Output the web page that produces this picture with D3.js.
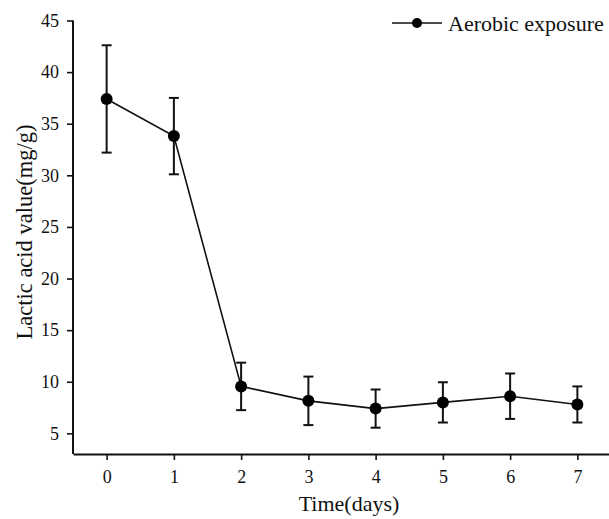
<!DOCTYPE html>
<html>
<head>
<meta charset="utf-8">
<script src="https://cdn.jsdelivr.net/npm/d3@7"></script>
<style>
  body { margin: 0; background: #fff; }
  svg text { font-family: "Liberation Serif", "Times New Roman", serif; fill: #111; }
</style>
</head>
<body>
<div id="chart"></div>
<script>
// data
var days = [0, 1, 2, 3, 4, 5, 6, 7];
var lactic = [37.4, 33.8, 9.55, 8.15, 7.4, 8.0, 8.6, 7.8];
var errs = [5.2, 3.7, 2.3, 2.35, 1.85, 1.95, 2.2, 1.75];
var yTicks = [5, 10, 15, 20, 25, 30, 35, 40, 45];
var seriesName = "Aerobic exposure";

var W = 609, H = 519;
var padL = 73, padB = 454, padT = 20;

var svg = d3.select("#chart").append("svg")
  .attr("width", W)
  .attr("height", H);

var x = d3.scaleLinear().domain([-0.5, 7.5]).range([padL, 611]);
var y = d3.scaleLinear().domain([3, 45]).range([padB, padT + 0.5]);

// axes
var xAxis = svg.append("g")
  .attr("transform", "translate(0," + padB + ")")
  .call(d3.axisBottom(x).tickValues(days).tickSize(6).tickSizeOuter(0).tickPadding(10));
var yAxis = svg.append("g")
  .attr("transform", "translate(" + padL + ",0)")
  .call(d3.axisLeft(y).tickValues(yTicks).tickSize(6).tickSizeOuter(0).tickPadding(8));

[xAxis, yAxis].forEach(function(ax){
  ax.attr("font-size", 18).attr("font-family", "Liberation Serif");
  ax.select(".domain").attr("stroke", "#111").attr("stroke-width", 2);
  ax.selectAll(".tick line").attr("stroke", "#111").attr("stroke-width", 1.6);
  ax.selectAll(".tick text").attr("fill", "#111");
});
// y axis line runs from the bottom axis up to 45
yAxis.select(".domain").attr("d", "M0," + padB + "V" + y(45));

// connecting line
var line = d3.line()
  .x(function(d, i){ return x(days[i]); })
  .y(function(d){ return y(d); });

svg.append("path")
  .datum(lactic)
  .attr("d", line)
  .attr("fill", "none")
  .attr("stroke", "#111")
  .attr("stroke-width", 1.6);

// error bars
var eb = svg.append("g").attr("stroke", "#111").attr("stroke-width", 2);
days.forEach(function(d, i){
  var cx = x(d), hi = y(lactic[i] + errs[i]), lo = y(lactic[i] - errs[i]);
  eb.append("line").attr("x1", cx).attr("x2", cx).attr("y1", hi).attr("y2", lo);
  eb.append("line").attr("x1", cx - 5).attr("x2", cx + 5).attr("y1", hi).attr("y2", hi);
  eb.append("line").attr("x1", cx - 5).attr("x2", cx + 5).attr("y1", lo).attr("y2", lo);
});

// points
svg.selectAll("circle.pt")
  .data(lactic)
  .enter().append("circle")
  .attr("class", "pt")
  .attr("cx", function(d, i){ return x(days[i]); })
  .attr("cy", function(d){ return y(d); })
  .attr("r", 6)
  .attr("fill", "#000");

// legend
var lg = svg.append("g").attr("transform", "translate(392,23)");
lg.append("line").attr("x1", 0).attr("x2", 50).attr("y1", 0).attr("y2", 0)
  .attr("stroke", "#111").attr("stroke-width", 1.6);
lg.append("circle").attr("cx", 25).attr("cy", 0).attr("r", 5).attr("fill", "#000");
lg.append("text").attr("x", 56).attr("y", 7.5).attr("font-size", 22).text(seriesName);

// axis titles
svg.append("text")
  .attr("x", 349)
  .attr("y", 511)
  .attr("text-anchor", "middle")
  .attr("font-size", 22)
  .text("Time(days)");

svg.append("text")
  .attr("transform", "translate(32,232) rotate(-90)")
  .attr("text-anchor", "middle")
  .attr("font-size", 22.5)
  .text("Lactic acid value(mg/g)");
</script>
</body>
</html>
